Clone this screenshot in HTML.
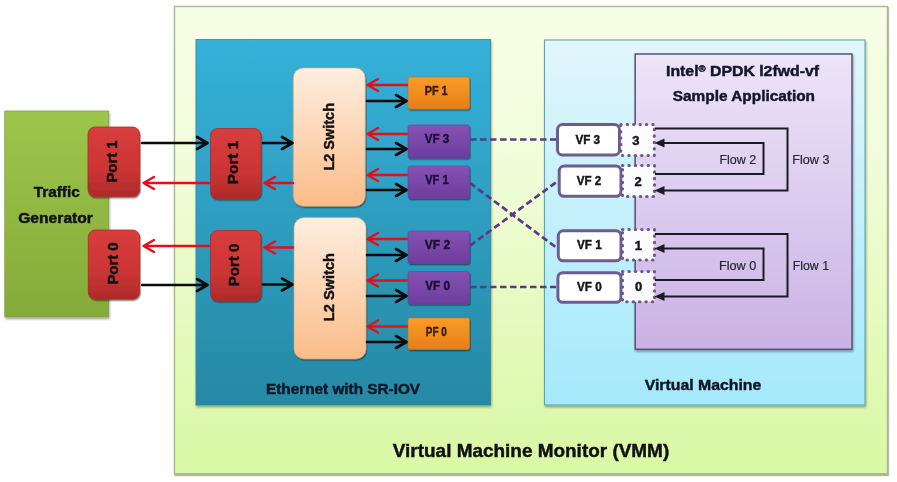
<!DOCTYPE html>
<html><head><meta charset="utf-8">
<style>
html,body{margin:0;padding:0;background:#fff;}
body{width:897px;height:482px;overflow:hidden;position:relative;}
svg{position:absolute;left:0;top:0;filter:blur(0.35px);}
text{font-family:"Liberation Sans",sans-serif;}
</style></head>
<body>
<svg width="897" height="482" viewBox="0 0 897 482">
<defs>
  <linearGradient id="gVMM" x1="0" y1="0" x2="0" y2="1">
    <stop offset="0" stop-color="#f8fee5"/>
    <stop offset="0.3" stop-color="#f2fddc"/>
    <stop offset="1" stop-color="#d9f8a4"/>
  </linearGradient>
  <linearGradient id="gBlue" x1="0" y1="0" x2="0" y2="1">
    <stop offset="0" stop-color="#35b1da"/>
    <stop offset="1" stop-color="#2689a4"/>
  </linearGradient>
  <linearGradient id="gVM" x1="0" y1="0" x2="0" y2="1">
    <stop offset="0" stop-color="#e2f6fc"/>
    <stop offset="1" stop-color="#a4e9fb"/>
  </linearGradient>
  <linearGradient id="gApp" x1="0" y1="0" x2="0" y2="1">
    <stop offset="0" stop-color="#ede5f8"/>
    <stop offset="1" stop-color="#cab2e4"/>
  </linearGradient>
  <linearGradient id="gGreen" x1="0" y1="0" x2="0" y2="1">
    <stop offset="0" stop-color="#9cc64b"/>
    <stop offset="1" stop-color="#85aa3a"/>
  </linearGradient>
  <linearGradient id="gRed" x1="0" y1="0" x2="0" y2="1">
    <stop offset="0" stop-color="#d83d3d"/>
    <stop offset="0.6" stop-color="#cc3535"/>
    <stop offset="1" stop-color="#ae2a2a"/>
  </linearGradient>
  <linearGradient id="gPeach" x1="0" y1="0" x2="0" y2="1">
    <stop offset="0" stop-color="#feeee0"/>
    <stop offset="1" stop-color="#fbbc88"/>
  </linearGradient>
  <linearGradient id="gOrange" x1="0" y1="0" x2="0" y2="1">
    <stop offset="0" stop-color="#f99c2a"/>
    <stop offset="1" stop-color="#e67f18"/>
  </linearGradient>
  <linearGradient id="gPurple" x1="0" y1="0" x2="0" y2="1">
    <stop offset="0" stop-color="#8652b4"/>
    <stop offset="1" stop-color="#6c3d9d"/>
  </linearGradient>
  <filter id="sh" x="-10%" y="-10%" width="130%" height="130%">
    <feDropShadow dx="0.8" dy="1.4" stdDeviation="0.7" flood-color="#000" flood-opacity="0.45"/>
  </filter>
  <filter id="shs" x="-5%" y="-5%" width="110%" height="110%">
    <feDropShadow dx="0.8" dy="1.8" stdDeviation="1.2" flood-color="#000" flood-opacity="0.35"/>
  </filter>
  <filter id="shv" x="-5%" y="-5%" width="110%" height="110%">
    <feDropShadow dx="0.6" dy="1.3" stdDeviation="0.6" flood-color="#303a20" flood-opacity="0.55"/>
  </filter>
</defs>
<!-- VMM -->
<rect x="174.5" y="6.5" width="713" height="467.3" fill="url(#gVMM)" stroke="#a9b88e" stroke-width="1.4" filter="url(#shv)"/>
<!-- Ethernet blue -->
<rect x="196" y="39.5" width="294.5" height="365.5" fill="url(#gBlue)" stroke="#2b87a6" stroke-width="0.8" filter="url(#shs)"/>
<!-- VM -->
<rect x="544.5" y="40" width="320.5" height="365" fill="url(#gVM)" stroke="#5aa7b4" stroke-width="1.1" filter="url(#shs)"/>
<!-- App purple -->
<rect x="635.2" y="54" width="216.8" height="295.3" fill="url(#gApp)" stroke="#5a5274" stroke-width="1.5" filter="url(#shs)"/>
<!-- Traffic generator -->
<rect x="4.8" y="111" width="103.8" height="206" fill="url(#gGreen)" stroke="#86a346" stroke-width="0.8" filter="url(#shs)"/>
<!-- Ports -->
<g fill="url(#gRed)" stroke="#b02a2a" stroke-width="0.8" filter="url(#sh)">
  <rect x="88" y="127" width="51.6" height="69.8" rx="7"/>
  <rect x="88.3" y="230" width="51.3" height="69.2" rx="7"/>
  <rect x="210.5" y="128.5" width="50.5" height="70.5" rx="7"/>
  <rect x="210.5" y="230.5" width="50.5" height="70.5" rx="7"/>
</g>
<!-- L2 switches -->
<g fill="url(#gPeach)" stroke="#d9a272" stroke-width="0.6" filter="url(#sh)">
  <rect x="293.3" y="67.9" width="71.9" height="138.3" rx="10"/>
  <rect x="294" y="217.6" width="72" height="141.3" rx="10"/>
</g>
<!-- PF / VF eth -->
<g stroke-width="0.6" filter="url(#sh)">
  <rect x="408" y="77" width="61.5" height="32" rx="2" fill="url(#gOrange)" stroke="#d07010"/>
  <rect x="408" y="125" width="61.5" height="33" rx="2" fill="url(#gPurple)" stroke="#6a409a"/>
  <rect x="408" y="166" width="61.5" height="32.5" rx="2" fill="url(#gPurple)" stroke="#6a409a"/>
  <rect x="408" y="231" width="61.5" height="32.5" rx="2" fill="url(#gPurple)" stroke="#6a409a"/>
  <rect x="408" y="271.5" width="61.5" height="32.5" rx="2" fill="url(#gPurple)" stroke="#6a409a"/>
  <rect x="408" y="318" width="61.5" height="31.5" rx="2" fill="url(#gOrange)" stroke="#d07010"/>
</g>
<g stroke="#0a0a0a" stroke-width="2.6" fill="none" stroke-linecap="round" stroke-linejoin="round">
  <path d="M142,143 H206.5 M197.0,137.0 L207.5,143 L197.0,149.0"/>
  <path d="M142,285 H206.5 M197.0,279.0 L207.5,285 L197.0,291.0"/>
  <path d="M263,143 H291.5 M282.0,137.0 L292.5,143 L282.0,149.0"/>
  <path d="M263,284.5 H291.5 M282.0,278.5 L292.5,284.5 L282.0,290.5"/>
  <path d="M367,101 H405.5 M396.0,95.0 L406.5,101 L396.0,107.0"/>
  <path d="M367,149 H405.5 M396.0,143.0 L406.5,149 L396.0,155.0"/>
  <path d="M367,190 H405.5 M396.0,184.0 L406.5,190 L396.0,196.0"/>
  <path d="M367,255 H405.5 M396.0,249.0 L406.5,255 L396.0,261.0"/>
  <path d="M367,296 H405.5 M396.0,290.0 L406.5,296 L396.0,302.0"/>
  <path d="M367,342 H405.5 M396.0,336.0 L406.5,342 L396.0,348.0"/>
</g>
<g stroke="#e3101c" stroke-width="2.4" fill="none" stroke-linecap="round" stroke-linejoin="round">
  <path d="M209,183 H144.5 M154.0,177.0 L143.5,183 L154.0,189.0"/>
  <path d="M209,246 H144.5 M154.0,240.0 L143.5,246 L154.0,252.0"/>
  <path d="M293,183 H265.5 M275.0,177.0 L264.5,183 L275.0,189.0"/>
  <path d="M293,247.5 H265.5 M275.0,241.5 L264.5,247.5 L275.0,253.5"/>
  <path d="M407,85 H368.5 M378.0,79.0 L367.5,85 L378.0,91.0"/>
  <path d="M407,134 H368.5 M378.0,128.0 L367.5,134 L378.0,140.0"/>
  <path d="M407,175 H368.5 M378.0,169.0 L367.5,175 L378.0,181.0"/>
  <path d="M407,239 H368.5 M378.0,233.0 L367.5,239 L378.0,245.0"/>
  <path d="M407,280.5 H368.5 M378.0,274.5 L367.5,280.5 L378.0,286.5"/>
  <path d="M407,326.5 H368.5 M378.0,320.5 L367.5,326.5 L378.0,332.5"/>
</g>
<!-- dashed connections -->
<g stroke="#583a88" stroke-width="2.7" fill="none" stroke-dasharray="6.5,3.5">
  <path d="M470,139.5 L556,139.5"/>
  <path d="M470,287 L556,287"/>
  <path d="M470,183 L556.4,247.6"/>
  <path d="M470,245.7 L556.4,182.1"/>
</g>
<!-- VM VF boxes -->
<g fill="#fff" stroke="#6d5c8f" stroke-width="3">
  <rect x="557.5" y="124.5" width="62" height="30.5" rx="5"/>
  <rect x="559.2" y="166" width="61.8" height="30.3" rx="5"/>
  <rect x="558.3" y="230.8" width="62.7" height="30" rx="5"/>
  <rect x="557.9" y="272.7" width="63.1" height="29.6" rx="5"/>
</g>
<g fill="#fbfbfd" stroke="#6a5a88" stroke-width="3.1" stroke-dasharray="0.4,6" stroke-linecap="round">
  <rect x="620.8" y="124.5" width="33.5" height="31"/>
  <rect x="622.5" y="165.5" width="32" height="31"/>
  <rect x="622.5" y="229.5" width="32" height="30.5"/>
  <rect x="622.5" y="271.5" width="32" height="30.2"/>
</g>
<!-- flow lines -->
<g stroke="#1a1a28" stroke-width="2" fill="none">
  <path d="M655,128.5 H787.5 V190.5 H662"/>
  <path d="M655,174 H763.5 V143 H662"/>
  <path d="M655,234 H787.5 V296.5 H662"/>
  <path d="M655,280 H763.5 V248.5 H662"/>
</g>
<g fill="#1a1a28">
  <path d="M654.5,143 L664.5,138.5 L664.5,147.5 Z"/>
  <path d="M654.5,190.5 L664.5,186 L664.5,195 Z"/>
  <path d="M654.5,248.5 L664.5,244 L664.5,253 Z"/>
  <path d="M654.5,296.5 L664.5,292 L664.5,301 Z"/>
</g>
<text x="33.70" y="196.90" font-size="15.40" font-weight="bold" fill="#111111" stroke="#111111" stroke-width="0.45" textLength="46.07" lengthAdjust="spacingAndGlyphs">Traffic</text>
<text x="18.20" y="223.00" font-size="15.40" font-weight="bold" fill="#111111" stroke="#111111" stroke-width="0.45" textLength="74.78" lengthAdjust="spacingAndGlyphs">Generator</text>
<text transform="translate(117.00,182.60) rotate(-90)" x="0" y="0" font-size="15.00" font-weight="bold" fill="#111111" stroke="#111111" stroke-width="0.45" textLength="42.27" lengthAdjust="spacingAndGlyphs">Port 1</text>
<text transform="translate(118.20,284.60) rotate(-90)" x="0" y="0" font-size="15.00" font-weight="bold" fill="#111111" stroke="#111111" stroke-width="0.45" textLength="42.25" lengthAdjust="spacingAndGlyphs">Port 0</text>
<text transform="translate(238.00,184.20) rotate(-90)" x="0" y="0" font-size="15.00" font-weight="bold" fill="#111111" stroke="#111111" stroke-width="0.45" textLength="43.44" lengthAdjust="spacingAndGlyphs">Port 1</text>
<text transform="translate(238.60,286.20) rotate(-90)" x="0" y="0" font-size="15.00" font-weight="bold" fill="#111111" stroke="#111111" stroke-width="0.45" textLength="42.49" lengthAdjust="spacingAndGlyphs">Port 0</text>
<text transform="translate(334.20,170.60) rotate(-90)" x="0" y="0" font-size="15.00" font-weight="bold" fill="#111111" stroke="#111111" stroke-width="0.45" textLength="67.58" lengthAdjust="spacingAndGlyphs">L2 Switch</text>
<text transform="translate(334.20,321.20) rotate(-90)" x="0" y="0" font-size="15.00" font-weight="bold" fill="#111111" stroke="#111111" stroke-width="0.45" textLength="68.17" lengthAdjust="spacingAndGlyphs">L2 Switch</text>
<text x="424.80" y="95.20" font-size="13.60" font-weight="bold" fill="#3a1a05" stroke="#3a1a05" stroke-width="0.45" textLength="22.85" lengthAdjust="spacingAndGlyphs">PF 1</text>
<text x="424.80" y="143.40" font-size="13.60" font-weight="bold" fill="#1c0c36" stroke="#1c0c36" stroke-width="0.45" textLength="24.48" lengthAdjust="spacingAndGlyphs">VF 3</text>
<text x="425.20" y="184.20" font-size="13.60" font-weight="bold" fill="#1c0c36" stroke="#1c0c36" stroke-width="0.45" textLength="23.53" lengthAdjust="spacingAndGlyphs">VF 1</text>
<text x="424.80" y="249.20" font-size="13.60" font-weight="bold" fill="#1c0c36" stroke="#1c0c36" stroke-width="0.45" textLength="25.49" lengthAdjust="spacingAndGlyphs">VF 2</text>
<text x="425.20" y="289.60" font-size="13.60" font-weight="bold" fill="#1c0c36" stroke="#1c0c36" stroke-width="0.45" textLength="24.89" lengthAdjust="spacingAndGlyphs">VF 0</text>
<text x="425.80" y="336.00" font-size="13.60" font-weight="bold" fill="#3a1a05" stroke="#3a1a05" stroke-width="0.45" textLength="20.95" lengthAdjust="spacingAndGlyphs">PF 0</text>
<text x="266.00" y="394.00" font-size="14.90" font-weight="bold" fill="#0c182a" stroke="#0c182a" stroke-width="0.45" textLength="154.03" lengthAdjust="spacingAndGlyphs">Ethernet with SR-IOV</text>
<text x="392.80" y="456.80" font-size="18.60" font-weight="bold" fill="#111111" stroke="#111111" stroke-width="0.45" textLength="276.41" lengthAdjust="spacingAndGlyphs">Virtual Machine Monitor (VMM)</text>
<text x="666.00" y="76.20" font-size="15.00" font-weight="bold" fill="#15152a" stroke="#15152a" stroke-width="0.45" textLength="153.05" lengthAdjust="spacingAndGlyphs">Intel<tspan font-size="9.00" dy="-4.5">®</tspan><tspan dy="4.5"> DPDK l2fwd-vf</tspan></text>
<text x="672.80" y="100.90" font-size="15.00" font-weight="bold" fill="#15152a" stroke="#15152a" stroke-width="0.45" textLength="142.23" lengthAdjust="spacingAndGlyphs">Sample Application</text>
<text x="644.70" y="389.50" font-size="15.40" font-weight="bold" fill="#0e1626" stroke="#0e1626" stroke-width="0.45" textLength="116.61" lengthAdjust="spacingAndGlyphs">Virtual Machine</text>
<text x="575.40" y="143.80" font-size="12.80" font-weight="bold" fill="#161616" stroke="#161616" stroke-width="0.45" textLength="24.73" lengthAdjust="spacingAndGlyphs">VF 3</text>
<text x="635.90" y="144.80" font-size="13.00" font-weight="bold" fill="#161616" stroke="#161616" stroke-width="0.45" text-anchor="middle">3</text>
<text x="576.80" y="185.40" font-size="12.80" font-weight="bold" fill="#161616" stroke="#161616" stroke-width="0.45" textLength="24.48" lengthAdjust="spacingAndGlyphs">VF 2</text>
<text x="638.20" y="185.80" font-size="13.00" font-weight="bold" fill="#161616" stroke="#161616" stroke-width="0.45" text-anchor="middle">2</text>
<text x="577.00" y="249.20" font-size="12.80" font-weight="bold" fill="#161616" stroke="#161616" stroke-width="0.45" textLength="24.75" lengthAdjust="spacingAndGlyphs">VF 1</text>
<text x="638.40" y="250.00" font-size="13.00" font-weight="bold" fill="#161616" stroke="#161616" stroke-width="0.45" text-anchor="middle">1</text>
<text x="577.00" y="290.80" font-size="12.80" font-weight="bold" fill="#161616" stroke="#161616" stroke-width="0.45" textLength="24.80" lengthAdjust="spacingAndGlyphs">VF 0</text>
<text x="638.70" y="291.20" font-size="13.00" font-weight="bold" fill="#161616" stroke="#161616" stroke-width="0.45" text-anchor="middle">0</text>
<text x="719.40" y="163.80" font-size="13.00" font-weight="normal" fill="#262636" stroke="#262636" stroke-width="0.2" textLength="36.89" lengthAdjust="spacingAndGlyphs">Flow 2</text>
<text x="792.20" y="163.60" font-size="13.00" font-weight="normal" fill="#262636" stroke="#262636" stroke-width="0.2" textLength="37.31" lengthAdjust="spacingAndGlyphs">Flow 3</text>
<text x="719.00" y="269.60" font-size="13.00" font-weight="normal" fill="#262636" stroke="#262636" stroke-width="0.2" textLength="37.32" lengthAdjust="spacingAndGlyphs">Flow 0</text>
<text x="792.80" y="269.60" font-size="13.00" font-weight="normal" fill="#262636" stroke="#262636" stroke-width="0.2" textLength="36.18" lengthAdjust="spacingAndGlyphs">Flow 1</text>
</svg>
</body></html>
